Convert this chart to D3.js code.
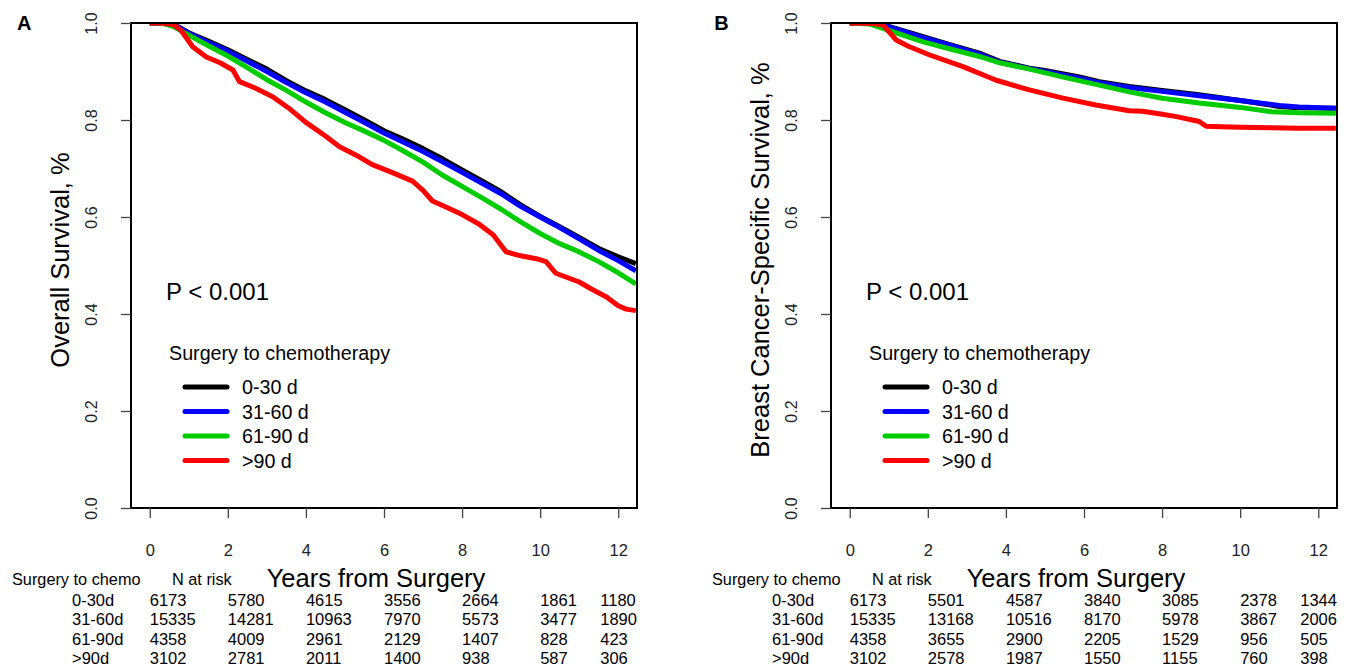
<!DOCTYPE html>
<meta charset="utf-8">
<script src="https://d3js.org/d3.v7.min.js"></script>
<style>
  body { margin: 0; background: #fff; }
  text { font-family: Arial, "Liberation Sans", sans-serif; }
</style>
<div id="chart"></div>
<script>
// ---- data: [years, survival] ----
var os_0_30 = [[0,1],[0.3,1],[0.6,0.998],[1,0.98],[1.5,0.963],[2,0.945],[2.5,0.925],[3,0.905],[3.5,0.881],[4,0.86],[4.5,0.842],[5,0.821],[5.5,0.8],[6,0.778],[6.5,0.76],[7,0.741],[7.5,0.72],[8,0.697],[8.5,0.675],[9,0.652],[9.5,0.625],[10,0.601],[10.5,0.58],[11,0.558],[11.5,0.535],[12,0.518],[12.45,0.504]];
var os_31_60 = [[0,1],[0.3,1],[0.6,0.997],[1,0.979],[1.5,0.96],[2,0.942],[2.5,0.921],[3,0.9],[3.5,0.877],[4,0.856],[4.5,0.837],[5,0.816],[5.5,0.795],[6,0.773],[6.5,0.754],[7,0.735],[7.5,0.714],[8,0.692],[8.5,0.67],[9,0.648],[9.5,0.622],[10,0.6],[10.5,0.578],[11,0.555],[11.5,0.531],[12,0.51],[12.45,0.489]];
var os_61_90 = [[0,1],[0.3,1],[0.6,0.993],[1,0.975],[1.5,0.953],[2,0.932],[2.5,0.908],[3,0.883],[3.5,0.861],[4,0.837],[4.5,0.815],[5,0.795],[5.5,0.777],[6,0.758],[6.5,0.736],[7,0.713],[7.5,0.686],[8,0.663],[8.5,0.64],[9,0.616],[9.5,0.59],[10,0.566],[10.5,0.545],[11,0.528],[11.5,0.508],[12,0.485],[12.45,0.462]];
var os_90 = [[0,1],[0.3,1],[0.6,0.997],[0.8,0.985],[1.1,0.951],[1.45,0.93],[1.8,0.918],[2.13,0.903],[2.3,0.879],[2.7,0.866],[3.15,0.848],[3.6,0.822],[4,0.795],[4.5,0.767],[4.86,0.745],[5.3,0.727],[5.7,0.708],[6.2,0.692],[6.73,0.674],[7,0.655],[7.24,0.633],[7.6,0.62],[8,0.605],[8.44,0.585],[8.8,0.563],[9.13,0.528],[9.5,0.52],[9.9,0.514],[10.15,0.508],[10.4,0.484],[11,0.466],[11.3,0.452],[11.7,0.435],[12,0.417],[12.2,0.41],[12.45,0.407]];

var bcss_0_30 = [[0,1],[0.68,1],[1,0.993],[1.88,0.972],[2.5,0.957],[3.32,0.938],[3.84,0.921],[4.6,0.907],[5,0.902],[5.88,0.889],[6.39,0.879],[7.16,0.869],[8,0.861],[8.95,0.852],[10,0.84],[11,0.828],[11.5,0.825],[12.45,0.824]];
var bcss_31_60 = [[0,1],[0.68,1],[1,0.992],[1.88,0.97],[2.5,0.956],[3.32,0.936],[3.84,0.919],[4.6,0.906],[5,0.9],[5.88,0.886],[6.39,0.877],[7.16,0.867],[8,0.859],[8.95,0.85],[10,0.84],[11,0.83],[11.5,0.827],[12.45,0.824]];
var bcss_61_90 = [[0,1],[0.5,0.998],[1,0.985],[1.88,0.961],[2.5,0.948],[3.32,0.931],[3.84,0.918],[4.6,0.905],[5.5,0.888],[6.39,0.872],[7.16,0.858],[8,0.845],[8.95,0.835],[10,0.826],[10.8,0.817],[11.5,0.815],[12.45,0.814]];
var bcss_90 = [[0,1],[0.6,0.999],[0.85,0.996],[1.19,0.965],[1.5,0.952],[2.05,0.934],[2.9,0.91],[3.75,0.882],[4.6,0.862],[5.46,0.845],[6.3,0.831],[7.16,0.819],[7.5,0.818],[8,0.812],[8.37,0.807],[8.95,0.797],[9.13,0.787],[9.5,0.786],[10,0.785],[10.8,0.784],[11.5,0.783],[12.45,0.783]];

var groups = ["0-30 d", "31-60 d", "61-90 d", ">90 d"];
var rowLabels = ["0-30d", "31-60d", "61-90d", ">90d"];
var colors = ["#000000", "#0000ff", "#00cc00", "#ff0000"];
var xTicks = [0, 2, 4, 6, 8, 10, 12];
var yTicks = [0, 0.2, 0.4, 0.6, 0.8, 1.0];

var riskA = [
  [6173, 5780, 4615, 3556, 2664, 1861, 1180],
  [15335, 14281, 10963, 7970, 5573, 3477, 1890],
  [4358, 4009, 2961, 2129, 1407, 828, 423],
  [3102, 2781, 2011, 1400, 938, 587, 306]
];
var riskB = [
  [6173, 5501, 4587, 3840, 3085, 2378, 1344],
  [15335, 13168, 10516, 8170, 5978, 3867, 2006],
  [4358, 3655, 2900, 2205, 1529, 956, 505],
  [3102, 2578, 1987, 1550, 1155, 760, 398]
];

var svg = d3.select("#chart").append("svg")
    .attr("width", 1358)
    .attr("height", 669);

function drawPanel(off, letter, yTitle, series, risk, id) {
  var left = 131 + off, right = 637 + off, top = 23, bottom = 508;
  var x = d3.scaleLinear().domain([-0.48, 12.48]).range([left, right]);
  var y = d3.scaleLinear().domain([0, 1]).range([bottom, top]);

  svg.append("clipPath").attr("id", "clip" + id)
    .append("rect").attr("x", left).attr("y", top)
    .attr("width", right - left).attr("height", bottom - top);

  // curves
  var line = d3.line()
    .x(function(d) { return x(d[0]); })
    .y(function(d) { return y(d[1]); });
  series.forEach(function(s, i) {
    svg.append("path")
      .datum(s)
      .attr("clip-path", "url(#clip" + id + ")")
      .attr("fill", "none")
      .attr("stroke", colors[i])
      .attr("stroke-width", 5)
      .attr("stroke-linejoin", "round")
      .attr("d", line);
  });

  // box
  svg.append("rect")
    .attr("x", left).attr("y", top)
    .attr("width", right - left).attr("height", bottom - top)
    .attr("fill", "none").attr("stroke", "#000").attr("stroke-width", 2);

  // y axis
  var ya = svg.append("g")
    .attr("transform", "translate(" + left + ",0)")
    .call(d3.axisLeft(y).tickValues(yTicks).tickSize(10).tickFormat(d3.format(".1f")));
  ya.select(".domain").remove();
  ya.selectAll("line").attr("stroke", "#444").attr("stroke-width", 1.3);
  ya.selectAll("text")
    .attr("x", 0).attr("y", -34).attr("dy", null)
    .attr("transform", "rotate(-90)")
    .attr("text-anchor", "middle")
    .attr("fill", "#222")
    .style("font-size", "16px")
    .style("font-family", "Arial, 'Liberation Sans', sans-serif");

  // x axis
  var xa = svg.append("g")
    .attr("transform", "translate(0," + bottom + ")")
    .call(d3.axisBottom(x).tickValues(xTicks).tickSize(10));
  xa.select(".domain").remove();
  xa.selectAll("line").attr("stroke", "#444").attr("stroke-width", 1.3);
  xa.selectAll("text")
    .attr("y", 48).attr("dy", null)
    .attr("fill", "#222")
    .style("font-size", "16.5px")
    .style("font-family", "Arial, 'Liberation Sans', sans-serif");

  // panel letter
  svg.append("text").attr("x", 17 + off * 0.996).attr("y", 30)
    .style("font-size", "20px").style("font-weight", "bold").text(letter);

  // y title
  svg.append("text")
    .attr("transform", "translate(" + (69 + off) + "," + 260 + ") rotate(-90)")
    .attr("text-anchor", "middle")
    .style("font-size", "25.5px")
    .text(yTitle);

  // p value and legend
  svg.append("text").attr("x", 166 + off).attr("y", 300)
    .style("font-size", "24px").text("P < 0.001");
  svg.append("text").attr("x", 169 + off).attr("y", 360)
    .style("font-size", "19.7px").text("Surgery to chemotherapy");
  groups.forEach(function(g, i) {
    var ly = 387 + i * 24.5;
    svg.append("line")
      .attr("x1", 185 + off).attr("x2", 227 + off)
      .attr("y1", ly).attr("y2", ly)
      .attr("stroke", colors[i]).attr("stroke-width", 5)
      .attr("stroke-linecap", "round");
    svg.append("text").attr("x", 242 + off).attr("y", ly)
      .attr("dominant-baseline", "central")
      .style("font-size", "19.7px").text(g);
  });

  // risk table
  svg.append("text").attr("x", (x(0) + x(12)) / 2 - 8).attr("y", 587)
    .attr("text-anchor", "middle").style("font-size", "25.5px")
    .text("Years from Surgery");
  svg.append("text").attr("x", 12 + off).attr("y", 585)
    .style("font-size", "16.3px").text("Surgery to chemo");
  svg.append("text").attr("x", 172 + off).attr("y", 585)
    .style("font-size", "16.3px").text("N at risk");
  risk.forEach(function(row, r) {
    var by = 606 + r * 19.3;
    svg.append("text").attr("x", 72 + off).attr("y", by)
      .style("font-size", "16.5px").text(rowLabels[r]);
    row.forEach(function(v, c) {
      var t = xTicks[c];
      svg.append("text")
        .attr("x", c === row.length - 1 ? x(t) - 18 : x(t))
        .attr("y", by)
        .style("font-size", "16.5px")
        .text(v);
    });
  });
}

drawPanel(0, "A", "Overall Survival, %", [os_0_30, os_31_60, os_61_90, os_90], riskA, "A");
drawPanel(700, "B", "Breast Cancer-Specific Survival, %", [bcss_0_30, bcss_31_60, bcss_61_90, bcss_90], riskB, "B");
</script>
